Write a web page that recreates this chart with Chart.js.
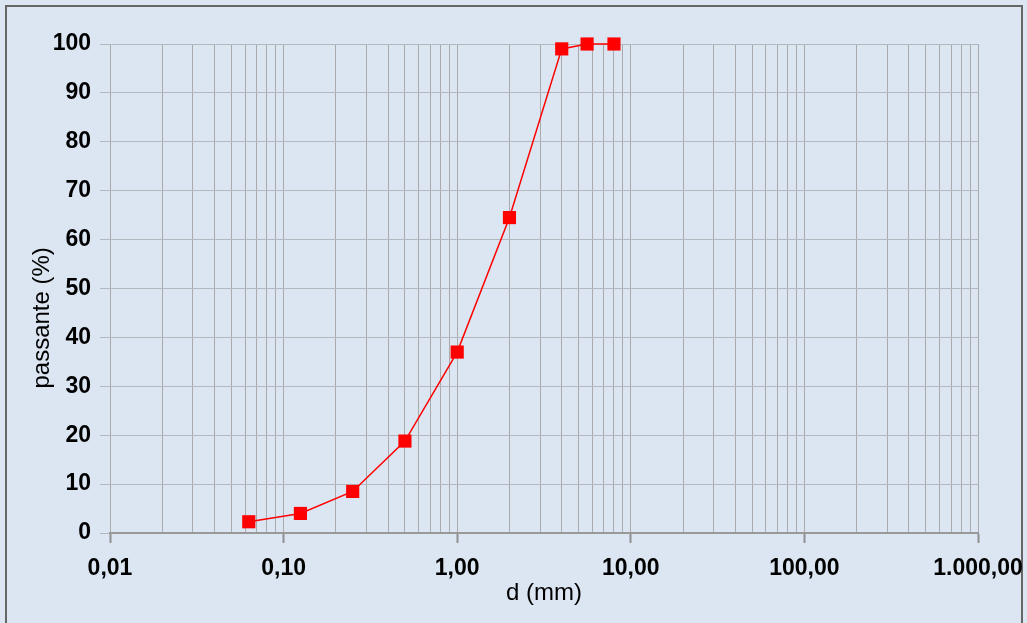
<!DOCTYPE html>
<html lang="it">
<head>
    <meta charset="UTF-8">
    <title>Curva granulometrica</title>
    <script src="https://cdn.jsdelivr.net/npm/chart.js"></script>
    <style>
        body {
            margin: 0;
            background-color: #dce6f2;
        }
        #chart-container {
            width: 1027px;
            height: 623px;
        }
    </style>
</head>
<body>
    <div id="chart-container">
        <canvas id="gradChart"></canvas>
    </div>

    <script>
        // sieve sizes (mm) and percent passing
        const sieveSizes = [0.063, 0.125, 0.25, 0.5, 1, 2, 4, 5.6, 8];
        const passing = [2.3, 4, 8.5, 18.8, 37, 64.5, 99, 100, 100];

        // log axis: decades with labels, plus minor gridlines 2..9
        const decades = [0.01, 0.1, 1, 10, 100, 1000];
        const decadeLabels = ['0,01', '0,10', '1,00', '10,00', '100,00', '1.000,00'];
        const minorSteps = [2, 3, 4, 5, 6, 7, 8, 9];

        const yMin = 0;
        const yMax = 100;
        const yStep = 10;

        const bgColor = '#dce6f2';
        const gridV = '#aaaaaa';
        const gridH = '#b3b8bf';
        const fontFamily = '"Liberation Sans", Arial, sans-serif';

        const isDecade = v => decades.some(d => Math.abs(v - d) < d * 1e-6);

        // background + outer frame
        const framePlugin = {
            id: 'frame',
            beforeDraw(chart) {
                const ctx = chart.ctx;
                ctx.save();
                ctx.fillStyle = bgColor;
                ctx.fillRect(0, 0, chart.width, chart.height);
                ctx.strokeStyle = '#666666';
                ctx.lineWidth = 2;
                ctx.beginPath();
                ctx.moveTo(6, chart.height);
                ctx.lineTo(6, 6);
                ctx.lineTo(chart.width - 5, 6);
                ctx.lineTo(chart.width - 5, chart.height);
                ctx.stroke();
                ctx.restore();
            }
        };

        // y axis title, a bit below the middle like in the original
        const yTitlePlugin = {
            id: 'yTitle',
            afterDraw(chart) {
                const area = chart.chartArea;
                const ctx = chart.ctx;
                ctx.save();
                ctx.translate(42, area.top + (area.bottom - area.top) * 0.56);
                ctx.rotate(-Math.PI / 2);
                ctx.font = '24px ' + fontFamily;
                ctx.fillStyle = '#000';
                ctx.textAlign = 'center';
                ctx.textBaseline = 'middle';
                ctx.fillText('passante (%)', 0, 0);
                ctx.restore();
            }
        };

        const ctx = document.getElementById('gradChart').getContext('2d');
        const chart = new Chart(ctx, {
            type: 'scatter',
            data: {
                datasets: [{
                    label: 'passante',
                    data: sieveSizes.map((d, i) => ({ x: d, y: passing[i] })),
                    showLine: true,
                    clip: false,
                    borderColor: '#ff0000',
                    borderWidth: 1.5,
                    backgroundColor: '#ff0000',
                    pointStyle: 'rect',
                    pointRadius: 9.3,
                    pointHoverRadius: 9.3,
                    pointBorderWidth: 0,
                    tension: 0
                }]
            },
            options: {
                responsive: true,
                maintainAspectRatio: false,
                animation: false,
                layout: {
                    padding: { left: 0, top: 44, right: 49, bottom: 0 }
                },
                plugins: {
                    legend: { display: false },
                    tooltip: { enabled: false }
                },
                scales: {
                    x: {
                        type: 'logarithmic',
                        min: decades[0],
                        max: decades[decades.length - 1],
                        afterBuildTicks(scale) {
                            const ticks = [];
                            decades.forEach((d, i) => {
                                ticks.push({ value: d });
                                if (i < decades.length - 1) {
                                    minorSteps.forEach(m => ticks.push({ value: d * m }));
                                }
                            });
                            scale.ticks = ticks;
                        },
                        afterFit(scale) {
                            scale.height = 90;
                            // let the layout padding decide the plot edges
                            scale.paddingLeft = 0;
                            scale.paddingRight = 0;
                        },
                        ticks: {
                            autoSkip: false,
                            maxRotation: 0,
                            minRotation: 0,
                            padding: 12,
                            color: '#000',
                            font: { family: fontFamily, size: 23, weight: 'bold' },
                            callback(value) {
                                const i = decades.findIndex(d => Math.abs(value - d) < d * 1e-6);
                                return i >= 0 ? decadeLabels[i] : '';
                            }
                        },
                        grid: {
                            color: gridV,
                            lineWidth: 1,
                            tickLength: 10,
                            tickWidth: 2,
                            tickColor: c => (c.tick && isDecade(c.tick.value)) ? '#909090' : 'rgba(0,0,0,0)'
                        },
                        border: {
                            display: true,
                            color: '#999999',
                            width: 2
                        },
                        title: {
                            display: true,
                            text: 'd (mm)',
                            color: '#000',
                            font: { family: fontFamily, size: 24 },
                            padding: { top: 0, bottom: 15 }
                        }
                    },
                    y: {
                        min: yMin,
                        max: yMax,
                        afterFit(scale) {
                            scale.width = 110;
                        },
                        ticks: {
                            stepSize: yStep,
                            padding: 9,
                            color: '#000',
                            font: { family: fontFamily, size: 23, weight: 'bold' }
                        },
                        grid: {
                            color: gridH,
                            lineWidth: 1,
                            tickLength: 10,
                            tickColor: gridH
                        },
                        border: { display: false }
                    }
                }
            },
            plugins: [framePlugin, yTitlePlugin]
        });
    </script>
</body>
</html>
